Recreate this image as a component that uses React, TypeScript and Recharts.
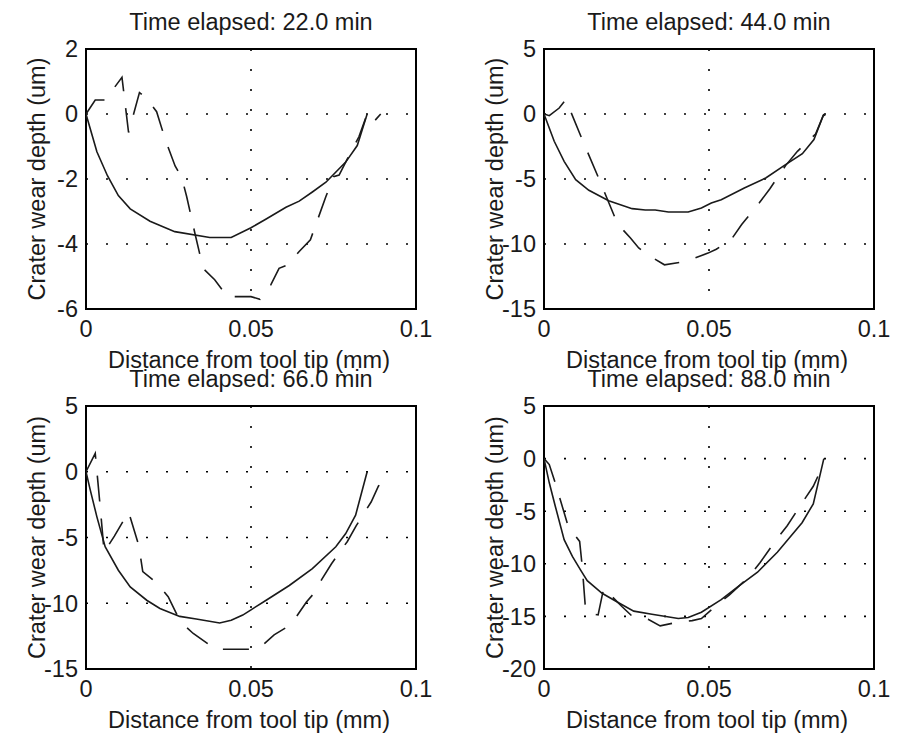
import React from 'react';
import { LineChart, Line, XAxis, YAxis, CartesianGrid, ReferenceArea } from 'recharts';

// ---- data: [distance (mm), depth (um)] ----
const solid22: [number, number][] = [
  [0, 0], [0.0033, -1.16], [0.0065, -1.9], [0.0098, -2.51], [0.0134, -2.92], [0.0194, -3.3],
  [0.0269, -3.62], [0.0375, -3.8], [0.044, -3.8], [0.05, -3.5], [0.0546, -3.23], [0.0606, -2.87],
  [0.0646, -2.68], [0.0686, -2.4], [0.0727, -2.1], [0.0787, -1.48], [0.0822, -0.97], [0.0852, 0],
];
const dashed22: [number, number][] = [
  [0, 0], [0.0028, 0.43], [0.0058, 0.43], [0.0109, 1.13], [0.0129, -0.57], [0.0162, 0.66],
  [0.0184, 0.48], [0.0214, 0.07], [0.024, -0.78], [0.027, -1.6], [0.029, -1.95], [0.0305, -2.54],
  [0.033, -3.67], [0.0355, -4.75], [0.039, -5.1], [0.043, -5.64], [0.0445, -5.62], [0.05, -5.62],
  [0.0527, -5.7], [0.056, -5.26], [0.0585, -4.75], [0.061, -4.65], [0.0646, -4.23], [0.068, -3.87],
  [0.0727, -2.54], [0.075, -1.93], [0.0767, -1.88], [0.0787, -1.48], [0.0827, -0.7], [0.0852, 0],
  [0.0872, -0.24], [0.0893, 0],
];
const solid44: [number, number][] = [
  [0, 0], [0.0031, -2.1], [0.0061, -3.64], [0.0096, -5.05], [0.0136, -5.87], [0.0196, -6.67],
  [0.0267, -7.28], [0.0307, -7.38], [0.0337, -7.38], [0.0377, -7.54], [0.0437, -7.54], [0.0477, -7.23],
  [0.0507, -6.85], [0.0537, -6.59], [0.0607, -5.69], [0.0672, -4.92], [0.0732, -3.9], [0.0783, -3.05],
  [0.0818, -1.97], [0.0848, 0],
];
const dashed44: [number, number][] = [
  [0, 0], [0.0016, -0.13], [0.0046, 0.46], [0.0066, 1.1], [0.0116, -1.97], [0.0171, -5.26],
  [0.0223, -8.46], [0.0262, -9.54], [0.0287, -10.3], [0.0322, -10.95], [0.0365, -11.6], [0.0417, -11.4],
  [0.0445, -11.2], [0.0497, -10.7], [0.0522, -10.4], [0.0567, -9.67], [0.0599, -8.5], [0.0652, -6.85],
  [0.0684, -5.77], [0.0732, -3.97], [0.0768, -2.87], [0.0823, -1.54], [0.0846, -0.13], [0.0858, 0],
  [0.087, -0.36],
];
const solid66: [number, number][] = [
  [0, 0], [0.0013, -1.4], [0.0033, -3.43], [0.0058, -5.7], [0.0098, -7.49], [0.0134, -8.76],
  [0.0184, -9.77], [0.0224, -10.4], [0.0284, -11], [0.0334, -11.2], [0.0405, -11.5], [0.044, -11.3],
  [0.0475, -10.9], [0.05, -10.5], [0.0546, -9.77], [0.0616, -8.65], [0.0686, -7.36], [0.0757, -5.71],
  [0.0787, -4.7], [0.0817, -3.3], [0.0852, 0],
];
const dashed66: [number, number][] = [
  [0, 0], [0.0028, 1.4], [0.0043, -2.66], [0.0055, -6.1], [0.0086, -4.9], [0.0129, -3.05],
  [0.016, -5.6], [0.0172, -7.6], [0.0214, -8.45], [0.0249, -9.5], [0.0286, -11.4], [0.0325, -12.3],
  [0.0393, -13.5], [0.05, -13.5], [0.053, -13.3], [0.057, -12.4], [0.061, -11.8], [0.0638, -11],
  [0.0668, -9.9], [0.0696, -9.1], [0.0714, -8.2], [0.0744, -7.0], [0.0769, -6.1], [0.0792, -5.3],
  [0.0819, -4.1], [0.0864, -2.3], [0.0886, -1.1], [0.0918, 0],
];
const solid88: [number, number][] = [
  [0, 0], [0.0016, -2.3], [0.0034, -4.5], [0.0061, -7.7], [0.0086, -9.3], [0.0111, -10.6],
  [0.0131, -11.6], [0.0176, -12.8], [0.0226, -13.7], [0.0272, -14.5], [0.0327, -14.8], [0.0407, -15.2],
  [0.0437, -15.1], [0.0477, -14.6], [0.0537, -13.4], [0.0587, -12.2], [0.0647, -10.8], [0.0707, -8.9],
  [0.0782, -6.1], [0.0816, -4.3], [0.0848, 0],
];
const dashed88: [number, number][] = [
  [0, 0], [0.0016, -0.57], [0.0034, -2.3], [0.0074, -6.5], [0.0108, -7.87], [0.0116, -10.3],
  [0.0126, -14.4], [0.0136, -14.7], [0.0164, -14.86], [0.0181, -12.3], [0.0236, -14.06], [0.0266, -14.95],
  [0.0317, -15.3], [0.0352, -15.9], [0.0397, -15.6], [0.0449, -15.4], [0.0477, -15.2], [0.0517, -14.1],
  [0.0562, -12.95], [0.0619, -11.3], [0.0655, -9.87], [0.0702, -7.8], [0.0737, -6.38], [0.0782, -4.22],
  [0.0816, -2.63], [0.0851, -0.25],
];

const xTicks = [0, 0.05, 0.1];
const yTicks22 = [-6, -4, -2, 0, 2];
const yTicks44 = [-15, -10, -5, 0, 5];
const yTicks66 = [-15, -10, -5, 0, 5];
const yTicks88 = [-20, -15, -10, -5, 0, 5];

const titles = ['Time elapsed: 22.0 min', 'Time elapsed: 44.0 min', 'Time elapsed: 66.0 min', 'Time elapsed: 88.0 min'];
const xLabel = 'Distance from tool tip (mm)';
const yLabel = 'Crater wear depth (um)';

const FONT = '"Liberation Sans", Arial, Helvetica, sans-serif';
const FS = 23.5;
const INK = '#1a1a1a';

const toRows = (pts: [number, number][]) => pts.map(([x, y]) => ({ x, y }));

type PanelProps = {
  plotLeft: number;
  plotTop: number;
  plotW: number;
  plotH: number;
  yTicks: number[];
  solid: [number, number][];
  dashed: [number, number][];
};

const YW = 86;
const XH = 44;
const MT = 30;
const MR = 30;

function Panel({ plotLeft, plotTop, plotW, plotH, yTicks, solid, dashed }: PanelProps) {
  const yDomain: [number, number] = [yTicks[0], yTicks[yTicks.length - 1]];
  return (
    <div style={{ position: 'absolute', left: plotLeft - YW, top: plotTop - MT }}>
      <LineChart
        width={YW + plotW + MR}
        height={MT + plotH + XH}
        margin={{ top: MT, right: MR, left: 0, bottom: 0 }}
      >
        <CartesianGrid stroke="#000" strokeWidth={1.6} strokeDasharray="2 18" />
        <XAxis
          dataKey="x"
          type="number"
          domain={[0, 0.1]}
          ticks={xTicks}
          allowDataOverflow
          height={XH}
          tickLine={false}
          tickSize={0}
          tickMargin={11}
          tickFormatter={(v: number) => String(v)}
          tick={{ fontSize: FS, fill: INK, fontFamily: FONT }}
          axisLine={false}
        />
        <YAxis
          type="number"
          domain={yDomain}
          ticks={yTicks}
          allowDataOverflow
          width={YW}
          tickLine={false}
          tickSize={0}
          tickMargin={8}
          tick={{ fontSize: FS, fill: INK, fontFamily: FONT }}
          axisLine={false}
        />
        <Line
          data={toRows(solid)}
          dataKey="y"
          type="linear"
          stroke={INK}
          strokeWidth={1.6}
          dot={false}
          isAnimationActive={false}
        />
        <Line
          data={toRows(dashed)}
          dataKey="y"
          type="linear"
          stroke={INK}
          strokeWidth={1.6}
          strokeDasharray="26 17"
          dot={false}
          isAnimationActive={false}
        />
        <ReferenceArea
          x1={0}
          x2={0.1}
          y1={yDomain[0]}
          y2={yDomain[1]}
          fill="none"
          fillOpacity={0}
          stroke="#000"
          strokeWidth={2}
          strokeOpacity={1}
          ifOverflow="visible"
        />
      </LineChart>
    </div>
  );
}

const panels = [
  { plotLeft: 86, plotTop: 49, plotH: 260, yTicks: yTicks22, solid: solid22, dashed: dashed22 },
  { plotLeft: 544, plotTop: 49, plotH: 260, yTicks: yTicks44, solid: solid44, dashed: dashed44 },
  { plotLeft: 86, plotTop: 406, plotH: 263, yTicks: yTicks66, solid: solid66, dashed: dashed66 },
  { plotLeft: 544, plotTop: 406, plotH: 263, yTicks: yTicks88, solid: solid88, dashed: dashed88 },
];

export default function App() {
  const PW = 330;
  return (
    <div
      style={{
        position: 'fixed',
        left: 0,
        top: 0,
        width: 907,
        height: 736,
        background: '#fff',
        fontFamily: FONT,
        overflow: 'hidden',
      }}
    >
      {panels.map((p, i) => (
        <Panel key={i} plotLeft={p.plotLeft} plotTop={p.plotTop} plotW={PW} plotH={p.plotH}
          yTicks={p.yTicks} solid={p.solid} dashed={p.dashed} />
      ))}
      <svg width={907} height={736} style={{ position: 'absolute', left: 0, top: 0, pointerEvents: 'none' }}>
        {panels.map((p, i) => {
          const cx = p.plotLeft + PW / 2;
          const cy = p.plotTop + p.plotH / 2;
          const titleBase = p.plotTop - 19;
          const xlBase = p.plotTop + p.plotH + 59;
          const ylx = p.plotLeft - 41;
          return (
            <g key={i} fontFamily={FONT} fontSize={FS} fill={INK}>
              <text x={cx} y={titleBase} textAnchor="middle">{titles[i]}</text>
              <text x={cx - 2} y={xlBase} textAnchor="middle">{xLabel}</text>
              <text x={ylx} y={cy} textAnchor="middle" transform={`rotate(-90 ${ylx} ${cy})`}>{yLabel}</text>
            </g>
          );
        })}
      </svg>
    </div>
  );
}
